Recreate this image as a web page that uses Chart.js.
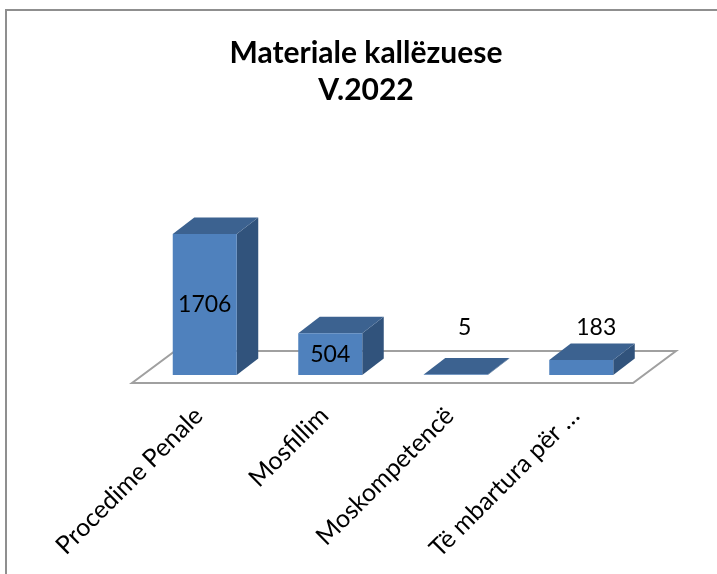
<!DOCTYPE html>
<html><head><meta charset="utf-8">
<style>
html,body{margin:0;padding:0;background:#fff;width:717px;height:574px;overflow:hidden}
#wrap{position:absolute;left:0;top:0;width:717px;height:574px}
#frame{position:absolute;left:5px;top:9px;width:720px;height:570px;border:2px solid #8f8f8f;box-sizing:border-box;pointer-events:none}
</style>
<script src="https://cdn.jsdelivr.net/npm/chart.js@4"></script>
</head><body>
<div id="frame"></div>
<div id="wrap"><canvas id="c" width="717" height="574"></canvas></div>
<script>
const titleLines = ["Materiale kallëzuese", "V.2022"];
const categories = ["Procedime Penale", "Mosfillim", "Moskompetencë", "Të mbartura për …"];
const values = [1706, 504, 5, 183];
const yMax = 2000;

const depth = {x: 21.5, y: -16.5};
const floorPad = {frontLeft: -10, frontRight: -11, frontDrop: 8};
const labelShift = [{x:0,y:0.5},{x:0,y:0.5},{x:9,y:0},{x:15,y:0}];
const labelAbove = 47;

const bars3d = {
  id: 'bars3d',
  beforeDatasetsDraw(chart) {
    const ctx = chart.ctx, a = chart.chartArea;
    const yF = a.bottom + floorPad.frontDrop, xL = a.left + floorPad.frontLeft, xR = a.right + floorPad.frontRight;
    const dx = 43, dy = -32;
    ctx.save();
    ctx.strokeStyle = '#a0a0a0'; ctx.lineWidth = 2; ctx.lineJoin = 'miter';
    ctx.beginPath();
    ctx.moveTo(xL, yF); ctx.lineTo(xR, yF); ctx.lineTo(xR + dx, yF + dy); ctx.lineTo(xL + dx, yF + dy); ctx.closePath();
    ctx.stroke();
    const meta = chart.getDatasetMeta(0);
    meta.data.forEach(el => {
      const p = el.getProps(['x','y','base','width'], true);
      const l = p.x - p.width/2, r = p.x + p.width/2, t = p.y, b = p.base;
      ctx.fillStyle = '#31537c';
      ctx.beginPath();
      ctx.moveTo(r,t); ctx.lineTo(r+depth.x,t+depth.y); ctx.lineTo(r+depth.x,b+depth.y); ctx.lineTo(r,b); ctx.closePath(); ctx.fill();
      ctx.fillStyle = '#3c6290';
      ctx.beginPath();
      ctx.moveTo(l,t); ctx.lineTo(r,t); ctx.lineTo(r+depth.x,t+depth.y); ctx.lineTo(l+depth.x,t+depth.y); ctx.closePath(); ctx.fill();
    });
    ctx.restore();
  },
  afterDatasetsDraw(chart) {
    const ctx = chart.ctx, meta = chart.getDatasetMeta(0);
    ctx.save();
    ctx.fillStyle = '#000';
    ctx.font = '23px Lato';
    ctx.textAlign = 'center'; ctx.textBaseline = 'middle';
    meta.data.forEach((el, i) => {
      const p = el.getProps(['x','y','base'], true);
      const s = labelShift[i];
      const inside = (p.base - p.y) > 30;
      const y = inside ? (p.y + p.base)/2 : p.base - labelAbove;
      ctx.fillText(String(values[i]), p.x + s.x, y + s.y);
    });
    ctx.restore();
  }
};

new Chart(document.getElementById('c'), {
  type: 'bar',
  data: { labels: categories, datasets: [{ data: values, backgroundColor: '#4f81bd', barPercentage: 0.51, categoryPercentage: 1 }] },
  plugins: [bars3d],
  options: {
    responsive: false, animation: false,
    layout: { padding: { left: 88, right: 73, top: 0, bottom: 0 } },
    plugins: {
      legend: { display: false }, tooltip: { enabled: false },
      title: { display: true, text: titleLines, color: '#000', align: 'center',
        font: { family: 'Lato', size: 30, weight: 'bold', lineHeight: 1.23 },
        padding: { top: 35, bottom: 101 } }
    },
    scales: {
      y: { display: true, min: 0, max: yMax,
        grid: { display: false, drawTicks: false }, border: { display: false },
        ticks: { display: false },
        afterFit(s) { s.width = 54; } },
      x: {
        grid: { display: false, drawTicks: false }, border: { display: false },
        afterFit(s) { s.height = 199; s.paddingLeft = 0; s.paddingRight = 0; },
        ticks: { autoSkip: false, minRotation: 45, maxRotation: 45, color: '#000', padding: 26, labelOffset: -6,
          font: { family: 'Lato', size: 25 } }
      }
    }
  }
});
</script>
</body></html>
